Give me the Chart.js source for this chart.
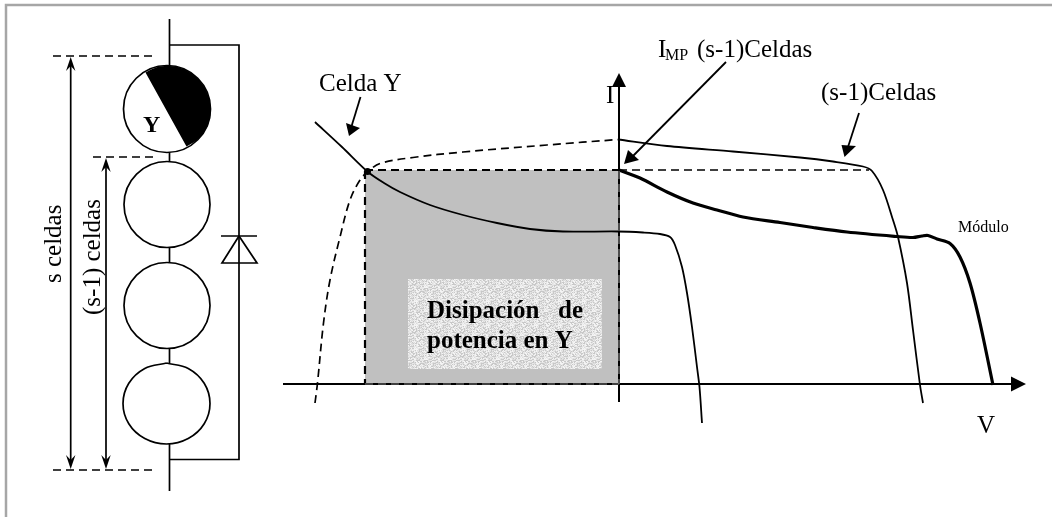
<!DOCTYPE html>
<html>
<head>
<meta charset="utf-8">
<style>
  html, body { margin: 0; padding: 0; background: #fff; }
  #wrap { width: 1052px; height: 517px; position: relative; }
</style>
<script src="https://cdn.jsdelivr.net/npm/chart.js@4/dist/chart.umd.min.js"></script>
</head>
<body>
<div id="wrap"><canvas id="chart" width="1052" height="517"></canvas></div>
<script>
// Everything in its own pixel units: [x, y]
const frameLine = [[6, 517], [6, 5], [1052, 5]];

// I-V curves
const curveCeldaY = [[315, 122], [342, 147], [368, 172], [384, 183], [400, 192], [430, 205], [463, 215], [497, 223], [530, 229], [563, 231.5], [618, 231.5], [643, 232.5], [660, 234], [670, 237], [675, 245], [682, 267], [687, 293], [692, 327], [697, 367], [699.5, 387], [702, 423]];
const curveCeldaYReverse = [[315, 403], [317.5, 383], [323.5, 323], [330, 280], [340, 237], [350, 200], [360, 180], [368, 171.5], [380, 163.5], [413, 157.5], [463, 152], [547, 145], [618, 139.5]];
const curveResto = [[618, 139.5], [667, 146], [733, 151.5], [800, 157.5], [833, 161.5], [863, 166.5], [872, 171], [883, 190], [893, 220], [898, 237], [907, 283], [913, 330], [920, 385], [923, 403]];
const curveModulo = [[619, 170], [640, 178], [667, 192], [693, 203], [717, 210], [743, 217], [780, 222.5], [813, 227.5], [847, 232], [897, 236.5], [913, 237.5], [922, 236], [928, 235.5], [937, 239], [950, 243.5], [960, 257], [970, 283], [980, 323], [993, 385]];
const operatingPoint = [[367.5, 171.5]];

// axes and guide lines
const axisV = [[283, 384], [1012, 384]];
const axisI = [[619, 402], [619, 85]];
const guideTopArea = [[365, 170], [619, 170]];
const guideTopRest = [[619, 170], [869, 170]];
const guideLeft = [[365, 171], [365, 384]];
const guideRight = [[619, 171], [619, 384]];
const guideBottom = [[365, 384], [619, 384]];

// filled areas
const areaDisipacion = [[365, 170], [619, 170], [619, 384], [365, 384]];
const areaTexto = [[408, 279], [602, 279], [602, 369], [408, 369]];

// pointers and their heads
const pointerCeldaY = [[360.5, 97], [351, 128]];
const headCeldaY = [[349, 136], [346, 123], [360, 128]];
const pointerImp = [[726, 62], [632, 157]];
const headImp = [[624, 164], [628, 150], [639, 160]];
const pointerResto = [[859, 113], [848, 147]];
const headResto = [[844.5, 157], [841.5, 145], [856, 146]];
const headAxisV = [[1026, 384], [1011, 376.5], [1011, 391.5]];
const headAxisI = [[619, 73], [612, 87], [626, 87]];

// cell string
const wireTop = [[169.5, 19], [169.5, 66]];
const wire12 = [[169.5, 152], [169.5, 162]];
const wire23 = [[169.5, 247], [169.5, 263]];
const wire34 = [[169.5, 348], [169.5, 363]];
const wireBottom = [[169.5, 444], [169.5, 491]];
const wireBypass = [[169.5, 45], [239, 45], [239, 459.5], [169.5, 459.5]];
const cellCentres = [[167, 109], [167, 204.5], [167, 305.5]];
const cellFour = [[166.5, 363], [188.2, 368.4], [204.2, 383.2], [210, 403.5], [204.2, 423.8], [188.2, 438.6], [166.5, 444], [144.8, 438.6], [128.8, 423.8], [123, 403.5], [128.8, 383.2], [144.8, 368.4], [166.5, 363]];
const cellShadow = [[145.5, 72.5], [151, 69.5], [158, 66.8], [167, 65.7], [176, 66.5], [184, 69], [192, 73.5], [199, 79.5], [205, 88], [209, 97], [210.6, 106], [210.5, 115], [208, 125], [203, 134], [196, 141], [186.5, 146.5]];
const diodeBar = [[221, 236], [257, 236]];
const diodeBody = [[239, 236], [222, 263], [257, 263], [239, 236]];

// dimension lines
const dimTop = [[53, 56], [153, 56]];
const dimMid = [[93, 157], [153, 157]];
const dimBottom = [[53, 470], [153, 470]];
const dimS = [[70.7, 66], [70.7, 460]];
const dimR = [[106, 167], [106, 460]];
const headSTop = [[70.7, 57], [66, 71], [70.7, 66], [75.4, 71]];
const headSBottom = [[70.7, 469], [66, 455], [70.7, 460], [75.4, 455]];
const headRTop = [[106, 158], [101.3, 172], [106, 167], [110.7, 172]];
const headRBottom = [[106, 469], [101.3, 455], [106, 460], [110.7, 455]];

// labels
const labelCeldaY = "Celda Y";
const labelI = "I";
const labelV = "V";
const labelImpI = "I";
const labelImpSub = "MP";
const labelImpRest = "(s-1)Celdas";
const labelResto = "(s-1)Celdas";
const labelModulo = "Módulo";
const labelCell = "Y";
const labelArea1 = "Disipación";
const labelArea2 = "de";
const labelArea3 = "potencia en Y";
const labelS = "s celdas";
const labelR = "(s-1) celdas";

function toPoints(list) {
  return list.map(([x, y]) => ({ x, y }));
}

function line(list, width, extra) {
  return Object.assign({
    type: "scatter",
    data: toPoints(list),
    showLine: true,
    borderColor: "#000",
    borderWidth: width,
    pointRadius: 0,
    tension: 0,
    fill: false,
  }, extra);
}

function shape(list, color, extra) {
  return Object.assign({
    type: "scatter",
    data: toPoints(list),
    showLine: true,
    borderColor: color,
    borderWidth: 0,
    backgroundColor: color,
    pointRadius: 0,
    tension: 0,
    fill: "shape",
  }, extra);
}

// grainy light fill behind the caption (fixed tile, no random)
function grainPattern() {
  const tile = document.createElement("canvas");
  tile.width = 24;
  tile.height = 24;
  const tctx = tile.getContext("2d");
  for (let y = 0; y < 24; y++) {
    for (let x = 0; x < 24; x++) {
      const h = (x * 7 + y * 13 + (x * y) % 5 * 11 + ((x ^ y) & 3) * 17) % 8;
      tctx.fillStyle = h < 2 ? "#c8c8c8" : h < 4 ? "#dcdcdc" : h < 6 ? "#e8e8e8" : "#f4f4f4";
      tctx.fillRect(x, y, 1, 1);
    }
  }
  return tctx.createPattern(tile, "repeat");
}

const dash = [8, 5];

const datasets = [
  shape(areaDisipacion, "#c0c0c0"),
  shape(areaTexto, grainPattern()),
  line(frameLine, 2.5, { borderColor: "#a6a6a6" }),

  // curves
  line(curveCeldaYReverse, 1.7, { borderDash: dash, tension: 0.35 }),
  line(curveResto, 1.8, { tension: 0.3 }),
  line(curveCeldaY, 1.8, { tension: 0.3 }),
  line(curveModulo, 3.2, { tension: 0.3 }),
  {
    type: "scatter",
    data: toPoints(operatingPoint),
    pointRadius: 3.5,
    pointBackgroundColor: "#000",
    pointBorderWidth: 0,
  },

  // axes, guides
  line(axisV, 2),
  line(axisI, 2),
  line(guideTopArea, 2.2, { borderDash: dash }),
  line(guideTopRest, 1.7, { borderDash: dash }),
  line(guideLeft, 2.2, { borderDash: dash }),
  line(guideRight, 1.2, { borderDash: dash, borderColor: "#808080" }),
  line(guideBottom, 1.2, { borderDash: dash, borderColor: "#808080" }),
  shape(headAxisV, "#000"),
  shape(headAxisI, "#000"),

  // pointers
  line(pointerCeldaY, 1.8),
  shape(headCeldaY, "#000"),
  line(pointerImp, 1.8),
  shape(headImp, "#000"),
  line(pointerResto, 1.8),
  shape(headResto, "#000"),

  // cell string
  line(wireTop, 1.7),
  line(wire12, 1.7),
  line(wire23, 1.7),
  line(wire34, 1.7),
  line(wireBottom, 1.7),
  line(wireBypass, 1.7),
  {
    type: "scatter",
    data: toPoints(cellCentres),
    showLine: false,
    pointRadius: [43.5, 43, 43],
    pointHoverRadius: 0,
    pointBackgroundColor: "#fff",
    pointBorderColor: "#000",
    pointBorderWidth: 1.7,
  },
  line(cellFour, 1.7, { tension: 0.35 }),
  shape(cellShadow, "#000"),
  line(diodeBody, 1.7),
  line(diodeBar, 1.7),

  // dimension lines
  line(dimTop, 1.7, { borderDash: dash }),
  line(dimMid, 1.7, { borderDash: dash }),
  line(dimBottom, 1.7, { borderDash: dash }),
  line(dimS, 1.7),
  line(dimR, 1.7),
  shape(headSTop, "#000"),
  shape(headSBottom, "#000"),
  shape(headRTop, "#000"),
  shape(headRBottom, "#000"),
].reverse(); // Chart.js paints the first dataset last

const SERIF = '"Liberation Serif", "Times New Roman", serif';

// caption plugin: places the labels through the chart's scales
const captions = {
  id: "captions",
  afterDatasetsDraw(chart) {
    const { ctx, scales } = chart;
    const put = (text, x, y, font, rotate) => {
      ctx.save();
      ctx.translate(scales.x.getPixelForValue(x), scales.y.getPixelForValue(y));
      if (rotate) ctx.rotate(-Math.PI / 2);
      ctx.font = font;
      ctx.fillStyle = "#000";
      ctx.textBaseline = "alphabetic";
      ctx.fillText(text, 0, 0);
      ctx.restore();
    };
    put(labelCeldaY, 319, 91, `25px ${SERIF}`);
    put(labelI, 606, 103, `25px ${SERIF}`);
    put(labelV, 977, 433, `25px ${SERIF}`);
    put(labelImpI, 658, 57, `25px ${SERIF}`);
    put(labelImpSub, 665, 60, `16px ${SERIF}`);
    put(labelImpRest, 697, 57, `25px ${SERIF}`);
    put(labelResto, 821, 100, `25px ${SERIF}`);
    put(labelModulo, 958, 232, `16px ${SERIF}`);
    put(labelCell, 143, 132, `bold 24px ${SERIF}`);
    put(labelArea1, 427, 318, `bold 25px ${SERIF}`);
    put(labelArea2, 558, 318, `bold 25px ${SERIF}`);
    put(labelArea3, 427, 348, `bold 25px ${SERIF}`);
    put(labelS, 61, 283, `25px ${SERIF}`, true);
    put(labelR, 100, 315, `25px ${SERIF}`, true);
  },
};

new Chart(document.getElementById("chart"), {
  type: "scatter",
  data: { datasets },
  plugins: [captions],
  options: {
    responsive: false,
    animation: false,
    layout: { padding: 0, autoPadding: false },
    events: [],
    plugins: { legend: { display: false }, tooltip: { enabled: false } },
    scales: {
      x: { type: "linear", min: 0, max: 1052, display: false },
      y: { type: "linear", min: 0, max: 517, reverse: true, display: false },
    },
  },
});
</script>
</body>
</html>
